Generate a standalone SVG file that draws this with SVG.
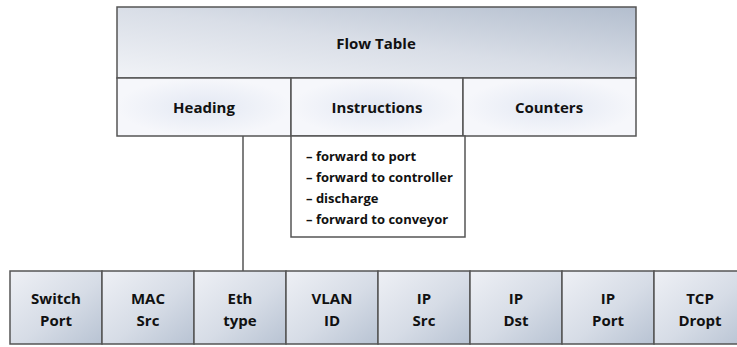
<svg xmlns="http://www.w3.org/2000/svg" width="737" height="347" viewBox="0 0 737 347">
<defs>
<linearGradient id="gTop" x1="0" y1="1" x2="1" y2="0">
<stop offset="0" stop-color="#f1f3f7"/>
<stop offset="0.5" stop-color="#d9dee7"/>
<stop offset="1" stop-color="#b3bece"/>
</linearGradient>
<linearGradient id="gCell" x1="0" y1="0" x2="1" y2="1">
<stop offset="0" stop-color="#eef0f5"/>
<stop offset="0.55" stop-color="#d6dce6"/>
<stop offset="1" stop-color="#b8c3d3"/>
</linearGradient>
<radialGradient id="gGlow" cx="0.5" cy="0.5" r="0.5">
<stop offset="0" stop-color="#e3e8f3"/>
<stop offset="1" stop-color="#f6f7fb"/>
</radialGradient>
</defs>
<style>
.box{stroke:#555;stroke-width:1.5}
.t{font-family:"Open Sans","Noto Sans",sans-serif;font-weight:700;font-size:15px;fill:#111;text-anchor:middle}
.l{font-family:"Open Sans","Noto Sans",sans-serif;font-weight:700;font-size:13px;fill:#111}
.cell{fill:url(#gCell);stroke:#555;stroke-width:1.5}
</style>
<g id="connectors">
<line x1="243" y1="136" x2="243" y2="271" stroke="#555" stroke-width="1.5"/>
</g>
<g id="flow-table">
<rect class="box" x="117" y="7" width="519" height="71" fill="url(#gTop)"/>
<text class="t" x="376" y="49">Flow Table</text>
</g>
<g id="heading">
<rect class="box" x="117" y="78" width="174" height="58" fill="url(#gGlow)"/>
<text class="t" x="204" y="113">Heading</text>
</g>
<g id="instructions">
<rect class="box" x="291" y="78" width="172" height="58" fill="url(#gGlow)"/>
<text class="t" x="377" y="113">Instructions</text>
</g>
<g id="counters">
<rect class="box" x="463" y="78" width="173" height="58" fill="url(#gGlow)"/>
<text class="t" x="549" y="113">Counters</text>
</g>
<g id="instruction-list">
<rect class="box" x="291" y="136" width="174" height="101" fill="#fff"/>
<text class="l" x="306" y="161">– forward to port</text>
<text class="l" x="306" y="182">– forward to controller</text>
<text class="l" x="306" y="203">– discharge</text>
<text class="l" x="306" y="224">– forward to conveyor</text>
</g>
<g id="switch-port">
<rect class="cell" x="10" y="271" width="92" height="73"/>
<text class="t" x="56" y="304">Switch</text><text class="t" x="56" y="326">Port</text>
</g>
<g id="mac-src">
<rect class="cell" x="102" y="271" width="92" height="73"/>
<text class="t" x="148" y="304">MAC</text><text class="t" x="148" y="326">Src</text>
</g>
<g id="eth-type">
<rect class="cell" x="194" y="271" width="92" height="73"/>
<text class="t" x="240" y="304">Eth</text><text class="t" x="240" y="326">type</text>
</g>
<g id="vlan-id">
<rect class="cell" x="286" y="271" width="92" height="73"/>
<text class="t" x="332" y="304">VLAN</text><text class="t" x="332" y="326">ID</text>
</g>
<g id="ip-src">
<rect class="cell" x="378" y="271" width="92" height="73"/>
<text class="t" x="424" y="304">IP</text><text class="t" x="424" y="326">Src</text>
</g>
<g id="ip-dst">
<rect class="cell" x="470" y="271" width="92" height="73"/>
<text class="t" x="516" y="304">IP</text><text class="t" x="516" y="326">Dst</text>
</g>
<g id="ip-port">
<rect class="cell" x="562" y="271" width="92" height="73"/>
<text class="t" x="608" y="304">IP</text><text class="t" x="608" y="326">Port</text>
</g>
<g id="tcp-dropt">
<rect class="cell" x="654" y="271" width="92" height="73"/>
<text class="t" x="700" y="304">TCP</text><text class="t" x="700" y="326">Dropt</text>
</g>
</svg>
